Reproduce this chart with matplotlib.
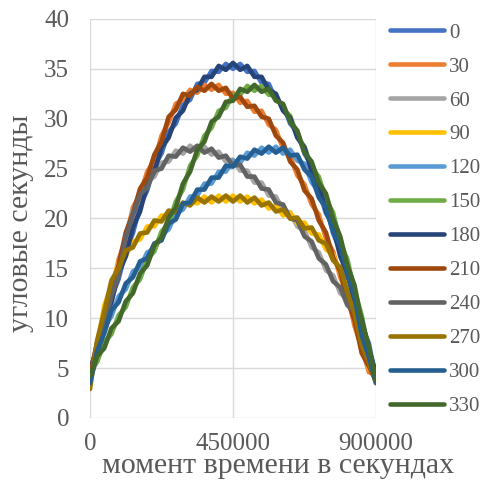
import numpy as np
import matplotlib.pyplot as plt

# moments of time, s (step 22500)
t = np.arange(0, 900001, 22500)

# angle (deg) -> values, arcsec
s0 = [4.3, 7.5, 9.3, 12.2, 13.9, 16.8, 18.5, 21.3, 22.8, 25.3,
      26.5, 28.7, 29.5, 31.4, 31.9, 33.5, 33.6, 34.8, 34.7, 35.5,
      35.0, 35.5, 34.7, 34.8, 33.6, 33.5, 31.9, 31.4, 29.5, 28.7,
      26.5, 25.3, 22.8, 21.3, 18.5, 16.8, 13.9, 12.2, 9.3, 7.5, 3.9]
s30 = [4.8, 7.0, 10.4, 12.6, 15.9, 18.0, 21.1, 22.4, 24.7, 25.8,
       28.3, 29.6, 31.5, 31.9, 32.9, 32.6, 33.4, 32.9, 33.4, 32.5,
       32.6, 31.6, 31.8, 30.7, 30.8, 29.4, 28.9, 27.0, 26.3, 24.3,
       23.4, 21.4, 20.4, 18.0, 16.7, 14.1, 12.4, 9.2, 7.1, 4.6, 4.3]
s60 = [4.3, 5.7, 9.6, 11.7, 14.9, 17.6, 20.9, 21.8, 23.7, 24.2,
       25.6, 25.7, 26.8, 26.5, 27.3, 26.7, 27.2, 26.4, 26.7, 25.7,
       25.9, 24.8, 24.8, 23.6, 23.6, 22.3, 22.2, 20.8, 20.6, 19.2,
       18.8, 17.1, 16.6, 14.8, 14.3, 12.5, 11.9, 10.1, 9.1, 6.2, 4.3]
s90 = [3.5, 7.2, 11.3, 13.2, 15.6, 16.2, 17.7, 17.9, 19.2, 19.2,
       20.3, 20.2, 21.2, 21.0, 21.9, 21.5, 22.2, 21.6, 22.3, 21.7,
       22.3, 21.7, 22.2, 21.5, 21.9, 21.0, 21.3, 20.3, 20.6, 19.5,
       19.6, 18.5, 18.4, 16.9, 16.4, 14.5, 13.2, 9.9, 7.9, 5.0, 4.1]
s120 = [4.1, 6.1, 9.1, 10.2, 12.2, 12.9, 14.7, 15.1, 16.6, 16.9,
        18.4, 18.9, 20.5, 20.9, 22.2, 22.3, 23.5, 23.5, 24.7, 24.7,
        25.8, 25.6, 26.6, 26.3, 27.1, 26.6, 27.2, 26.5, 26.9, 25.8,
        25.5, 23.6, 22.7, 20.5, 19.3, 16.7, 15.1, 11.5, 8.9, 5.5, 4.1]
s150 = [4.8, 5.6, 7.6, 8.4, 10.3, 11.1, 13.1, 13.9, 15.9, 16.7,
        18.7, 19.5, 21.7, 22.9, 25.3, 26.3, 28.3, 29.1, 30.8, 31.1,
        32.4, 32.4, 33.3, 32.8, 33.3, 32.4, 32.4, 30.9, 30.3, 28.2,
        27.2, 25.1, 24.2, 21.9, 20.6, 17.6, 15.9, 12.7, 10.3, 6.6, 4.3]
s180 = [4.9, 6.9, 9.9, 11.6, 14.5, 16.2, 19.1, 20.7, 23.4, 24.7,
        27.1, 28.1, 30.1, 30.8, 32.5, 32.9, 34.2, 34.2, 35.3, 34.9,
        35.6, 34.9, 35.3, 34.2, 34.2, 32.9, 32.5, 30.8, 30.1, 28.1,
        27.1, 24.7, 23.4, 20.7, 19.1, 16.2, 14.5, 11.6, 9.9, 6.9, 4.5]
s210 = [4.2, 7.6, 9.8, 13.2, 15.3, 18.6, 20.5, 23.0, 24.1, 26.4,
        27.7, 30.2, 30.9, 32.5, 32.3, 33.2, 32.8, 33.5, 32.8, 33.1,
        32.0, 32.2, 31.2, 31.3, 30.2, 30.0, 28.3, 27.6, 25.7, 24.9,
        22.8, 22.0, 19.8, 18.6, 16.1, 14.7, 11.8, 9.8, 6.5, 5.2, 3.7]
s240 = [3.7, 6.3, 9.0, 12.3, 14.3, 18.2, 20.3, 22.4, 23.1, 24.8,
        25.0, 26.3, 26.2, 27.1, 26.7, 27.3, 26.6, 27.0, 26.1, 26.3,
        25.3, 25.4, 24.2, 24.2, 23.0, 22.9, 21.6, 21.4, 20.0, 19.8,
        18.2, 17.7, 16.0, 15.4, 13.7, 13.1, 11.3, 10.7, 8.5, 6.8, 3.7]
s270 = [2.9, 7.8, 10.7, 13.8, 15.0, 16.8, 17.1, 18.5, 18.6, 19.8,
        19.7, 20.8, 20.6, 21.6, 21.3, 22.1, 21.6, 22.2, 21.7, 22.3,
        21.7, 22.3, 21.6, 22.1, 21.3, 21.6, 20.7, 20.9, 20.0, 20.1,
        19.0, 19.1, 17.8, 17.5, 15.8, 15.1, 12.6, 10.5, 7.3, 5.6, 3.5]
s300 = [3.5, 6.7, 8.5, 10.8, 11.6, 13.5, 14.1, 15.7, 16.0, 17.5,
        17.8, 19.5, 19.9, 21.5, 21.6, 22.9, 22.9, 24.1, 24.1, 25.3,
        25.2, 26.2, 26.0, 26.9, 26.5, 27.2, 26.6, 27.1, 26.3, 26.4,
        24.9, 24.2, 22.1, 21.1, 18.7, 17.3, 14.5, 12.1, 8.3, 6.1, 3.5]
s330 = [4.2, 6.2, 7.0, 9.0, 9.7, 11.7, 12.5, 14.5, 15.3, 17.3,
        18.1, 20.1, 21.1, 23.5, 24.7, 26.9, 27.7, 29.7, 30.2, 31.7,
        31.8, 33.0, 32.7, 33.4, 32.7, 33.0, 31.8, 31.5, 29.7, 28.8,
        26.6, 25.7, 23.6, 22.5, 20.0, 18.2, 15.3, 13.3, 9.7, 7.2, 3.7]

labels = ["0", "30", "60", "90", "120", "150", "180", "210", "240", "270", "300", "330"]
series = [s0, s30, s60, s90, s120, s150, s180, s210, s240, s270, s300, s330]
colors = ["#4472C4", "#ED7D31", "#A5A5A5", "#FFC000", "#5B9BD5", "#70AD47",
          "#264478", "#9E480E", "#636363", "#997300", "#255E91", "#43682B"]

plt.rcParams["font.family"] = ["Liberation Serif", "DejaVu Serif"]
txt = "#595959"

fig = plt.figure(figsize=(4.89, 4.93), dpi=100)
ax = fig.add_axes([90 / 489, 75 / 493, 286 / 489, 399 / 493])

for lab, vals, col in zip(labels, series, colors):
    ax.plot(t, vals, color=col, lw=3.3, label=lab,
            solid_joinstyle="round", solid_capstyle="round", zorder=3)

ax.set_xlim(0, 900000)
ax.set_ylim(0, 40)
ax.set_xticks([0, 450000, 900000])
ax.set_yticks(range(0, 41, 5))
ax.grid(True, color="#D9D9D9", lw=1.0, zorder=0)
ax.set_axisbelow(True)
for sp in ax.spines.values():
    sp.set_visible(False)
ax.tick_params(axis="both", length=0, labelsize=18, labelcolor=txt)
ax.tick_params(axis="y", pad=15)
ax.tick_params(axis="x", pad=11)

ax.set_xlabel("момент времени в секундах", fontsize=21.5, color=txt)
ax.xaxis.set_label_coords(0.657, -0.088)
ax.set_ylabel("угловые секунды", fontsize=21.5, color=txt)
ax.yaxis.set_label_coords(-0.195, 0.489)

fig.legend(loc="upper left", bbox_to_anchor=(390 / 489, 1 - 23 / 493),
           frameon=False, fontsize=15, handlelength=2.6, handletextpad=0.25,
           labelspacing=0.69, borderpad=0, borderaxespad=0, labelcolor=txt)

fig.savefig("out.png", dpi=100)
